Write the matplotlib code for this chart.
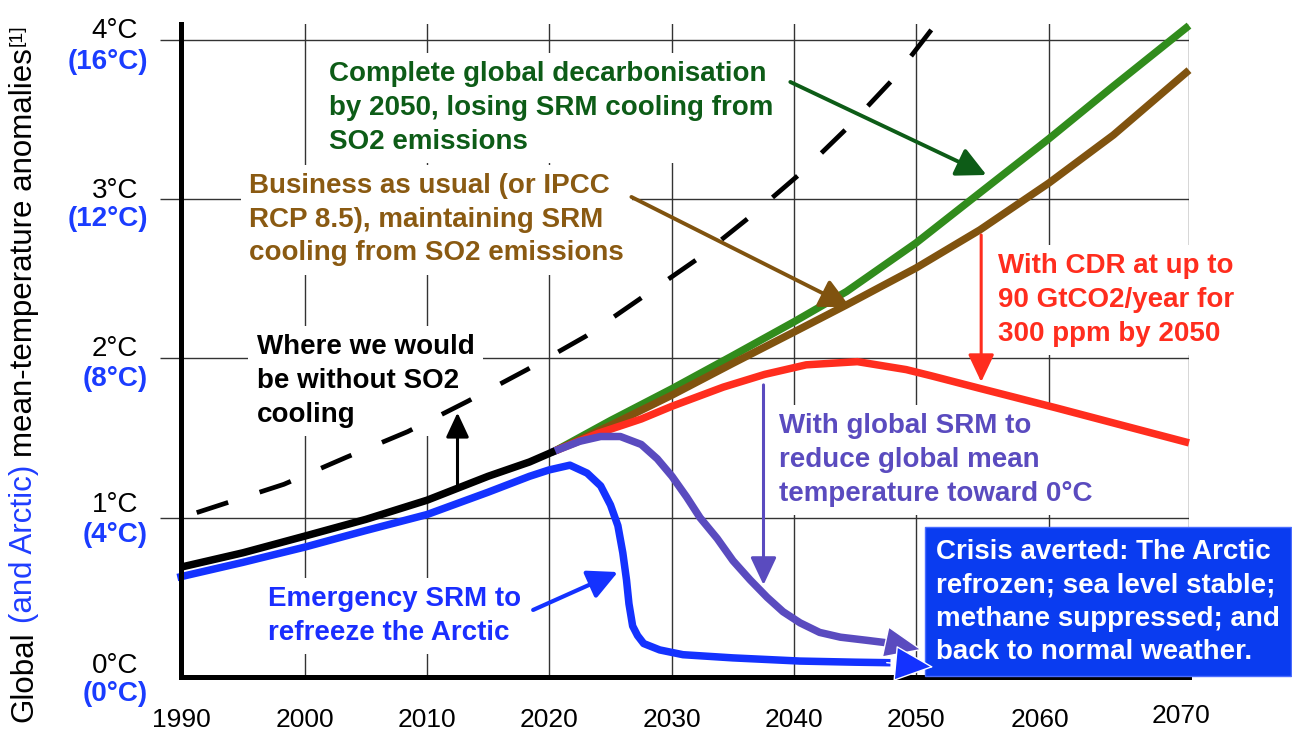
import numpy as np
import matplotlib.pyplot as plt
from matplotlib.transforms import ScaledTranslation

plt.rcParams['font.family'] = ['Liberation Sans', 'DejaVu Sans']

# the x axis of the original is drawn by hand, decades are not evenly spaced
grid_years = [1990, 2000, 2010, 2020, 2030, 2040, 2050, 2060, 2070]
grid_pos = [0, 124, 246, 368, 491, 613, 735, 868, 1008]

temp_ticks = [0, 1, 2, 3, 4]
arctic_ticks = [0, 4, 8, 12, 16]
# the two labels of each tick sit a bit unevenly in the original (pixels)
black_dy = [11, 13, 9, 8, 9]
blue_dy = [-17, -17, -21, -20, -22]

# observed global mean history (black)
hist_years = [1990, 1995, 2000, 2005, 2010, 2015, 2018.4, 2020.5]
hist_temp = [0.69, 0.78, 0.885, 0.99, 1.11, 1.26, 1.35, 1.42]

# without SO2 cooling (dashed)
noso2_years = [1990, 1998.3, 2003.4, 2008.4, 2013.3, 2018.2, 2023.0, 2027.5,
               2032.0, 2036.4, 2040.5, 2044.4, 2048.2, 2051.4]
noso2_temp = [1.00, 1.21, 1.38, 1.54, 1.73, 1.93, 2.14, 2.38,
              2.62, 2.89, 3.16, 3.45, 3.76, 4.09]

# complete decarbonisation (green)
decarb_years = [2020.5, 2025, 2030, 2034.8, 2040, 2044.3, 2050, 2054.8, 2060, 2064.6, 2070]
decarb_temp = [1.42, 1.61, 1.81, 2.01, 2.23, 2.42, 2.725, 3.04, 3.38, 3.71, 4.09]

# business as usual (brown)
bau_years = [2020.5, 2025, 2030, 2035, 2040, 2044.3, 2050, 2054.8, 2060, 2064.6, 2070]
bau_temp = [1.42, 1.58, 1.77, 1.97, 2.166, 2.336, 2.568, 2.807, 3.102, 3.403, 3.81]

# CDR (red)
cdr_years = [2020.5, 2024, 2027.5, 2030, 2034.2, 2037.6, 2041, 2045.2, 2049.2,
             2051.2, 2054.9, 2060.5, 2070]
cdr_temp = [1.42, 1.53, 1.62, 1.70, 1.82, 1.90, 1.96, 1.98, 1.93,
            1.89, 1.81, 1.69, 1.47]

# global SRM (purple)
gsrm_years = [2020.5, 2022.5, 2024.2, 2025.8, 2027.5, 2028.8, 2030, 2031.2, 2032.3,
              2033.7, 2035.0, 2036.4, 2037.8, 2039.1, 2040.5, 2042.1, 2043.8,
              2046.0, 2048.1]
gsrm_temp = [1.42, 1.48, 1.51, 1.51, 1.46, 1.37, 1.26, 1.13, 1.00,
             0.87, 0.73, 0.61, 0.50, 0.41, 0.34, 0.28, 0.25,
             0.23, 0.21]
gsrm_tip = (2050.5, 0.17)

# emergency SRM for the Arctic (blue)
arctic_years = [1990, 1995, 2000, 2005, 2010, 2015, 2018.4, 2020, 2021.7, 2023.1,
                2024.2, 2025, 2025.6, 2026.0, 2026.3, 2026.5, 2026.8, 2027.2,
                2027.7, 2029.0, 2030.9, 2035.0, 2040.5, 2045, 2047.6]
arctic_temp = [0.63, 0.72, 0.816, 0.92, 1.02, 1.16, 1.26, 1.30, 1.33, 1.28,
               1.20, 1.08, 0.95, 0.78, 0.61, 0.46, 0.32, 0.26,
               0.21, 0.17, 0.14, 0.12, 0.10, 0.093, 0.09]
arctic_tip = (2051.3, 0.063)


def fwd(x):
    x = np.asarray(x, dtype=float)
    y = np.interp(x, grid_years, grid_pos)
    y = np.where(x < 1990, (x - 1990) * 12.4, y)
    y = np.where(x > 2070, 1008 + (x - 2070) * 14.0, y)
    return y


def inv(y):
    y = np.asarray(y, dtype=float)
    x = np.interp(y, grid_pos, grid_years)
    x = np.where(y < 0, 1990 + y / 12.4, x)
    x = np.where(y > 1008, 2070 + (y - 1008) / 14.0, x)
    return x


fig = plt.figure(figsize=(12.92, 7.34), dpi=100)
ax = fig.add_axes([181 / 1292, 1 - 677 / 734, 1008 / 1292, 653 / 734])
ax.set_xscale('function', functions=(fwd, inv))
ax.set_xlim(1990, 2070)
ax.set_ylim(0, 4.1)

# grid
for yr in grid_years[1:]:
    ax.axvline(yr, color='#333333', lw=1.0, zorder=0.5)
for t in temp_ticks[1:]:
    ax.axhline(t, color='#333333', lw=1.0, zorder=0.5)

for s in ['top', 'right']:
    ax.spines[s].set_visible(False)
for s in ['left', 'bottom']:
    ax.spines[s].set_linewidth(3.6)
    ax.spines[s].set_zorder(6)

ax.set_yticks(temp_ticks[1:])
ax.tick_params(axis='y', length=15, width=1.0, color='#333333', labelleft=False)
ax.set_xticks(grid_years)
ax.set_xticklabels([str(y) for y in grid_years], fontsize=19)
ax.tick_params(axis='x', length=0, pad=22)
ax.xaxis.set_minor_locator(plt.NullLocator())
labs = ax.get_xticklabels()
labs[7].set_transform(labs[7].get_transform() + ScaledTranslation(-0.09, 0, fig.dpi_scale_trans))
labs[8].set_transform(labs[8].get_transform() + ScaledTranslation(-0.08, 0.04, fig.dpi_scale_trans))

for t, a, dyk, dyb in zip(temp_ticks, arctic_ticks, black_dy, blue_dy):
    ax.annotate(f'{t}°C', xy=(0, t), xycoords=('axes fraction', 'data'),
                xytext=(-43, dyk), textcoords='offset pixels',
                ha='right', va='center', fontsize=20)
    ax.annotate(f'({a}°C)', xy=(0, t), xycoords=('axes fraction', 'data'),
                xytext=(-33, dyb), textcoords='offset pixels',
                ha='right', va='center', fontsize=20, fontweight='bold',
                color='#1a3cff')

# curves
lw = 5.4
ax.plot(noso2_years, noso2_temp, color='black', lw=3.4, ls=(10.5, (7, 7)),
        zorder=3, clip_on=False)
ax.plot(decarb_years, decarb_temp, color='#318c1c', lw=lw, zorder=3,
        clip_on=False, solid_capstyle='butt', solid_joinstyle='round')
ax.plot(bau_years, bau_temp, color='#80530f', lw=lw, zorder=3.1,
        clip_on=False, solid_capstyle='butt', solid_joinstyle='round')
ax.plot(cdr_years, cdr_temp, color='#ff2d1e', lw=lw, zorder=3.2,
        clip_on=False, solid_capstyle='butt', solid_joinstyle='round')
ax.plot(gsrm_years, gsrm_temp, color='#5a4bbf', lw=lw, zorder=3.3,
        clip_on=False, solid_joinstyle='round')
ax.plot(arctic_years, arctic_temp, color='#1432ff', lw=lw, zorder=3.4,
        clip_on=False, solid_joinstyle='round')
ax.plot(hist_years, hist_temp, color='black', lw=lw, zorder=3.5,
        clip_on=False, solid_capstyle='butt', solid_joinstyle='round')

# arrow heads at the end of the SRM curves
ax.annotate('', xy=gsrm_tip, xytext=(gsrm_years[-1], gsrm_temp[-1]),
            arrowprops=dict(arrowstyle='-|>,head_length=1.3,head_width=0.55',
                            mutation_scale=20, fc='#5a4bbf', ec='white', lw=1,
                            shrinkA=0, shrinkB=0), zorder=8)
ax.annotate('', xy=arctic_tip, xytext=(arctic_years[-1], arctic_temp[-1]),
            arrowprops=dict(arrowstyle='-|>,head_length=1.3,head_width=0.6',
                            mutation_scale=20, fc='#1432ff', ec='white', lw=1,
                            shrinkA=0, shrinkB=0), zorder=8)

txt = dict(fontsize=20, fontweight='bold', ha='left', va='center',
           linespacing=1.38, zorder=2,
           bbox=dict(boxstyle='square,pad=0.3', fc='white', ec='none'))

ax.text(2002.0, 3.573, 'Complete global decarbonisation\nby 2050, losing SRM cooling from\nSO2 emissions',
        color='#0d5c17', **txt)
ax.text(1995.5, 2.870, 'Business as usual (or IPCC\nRCP 8.5), maintaining SRM\ncooling from SO2 emissions',
        color='#8a5a12', **txt)
ax.text(1996.1, 1.859, 'Where we would\nbe without SO2\ncooling', color='black', **txt)
ax.text(2056.2, 2.367, 'With CDR at up to\n90 GtCO2/year for\n300 ppm by 2050',
        color='#ff2d1e', **txt)
ax.text(2038.8, 1.363, 'With global SRM to\nreduce global mean\ntemperature toward 0°C',
        color='#5a4bbf', **txt)
ax.text(1997.0, 0.383, 'Emergency SRM to\nrefreeze the Arctic', color='#1a2eff', **txt)

ax.text(2051.5, 0.471, 'Crisis averted: The Arctic\nrefrozen; sea level stable;\nmethane suppressed; and\nback to normal weather.',
        color='white', fontsize=20, fontweight='bold', ha='left', va='center',
        linespacing=1.38, zorder=7, clip_on=False,
        bbox=dict(boxstyle='square,pad=0.4', fc='#0a3cf0', ec='#4a6cff', lw=1))


def arrow(start, tip, color, width, hl=0.9, hw=0.45):
    ax.annotate('', xy=tip, xytext=start,
                arrowprops=dict(arrowstyle=f'-|>,head_length={hl},head_width={hw}',
                                mutation_scale=20, color=color, lw=width,
                                shrinkA=0, shrinkB=0), zorder=4)


arrow((2039.7, 3.736), (2055.3, 3.152), '#0d5c17', 2.8)
arrow((2026.7, 3.014), (2044.6, 2.323), '#80530f', 2.8)
arrow((2012.5, 1.20), (2012.5, 1.66), 'black', 2.2, 0.75, 0.35)
arrow((2054.9, 2.775), (2054.9, 1.852), '#ff2d1e', 2.2, 0.85, 0.4)
arrow((2037.5, 1.834), (2037.5, 0.578), '#5a4bbf', 2.2, 0.85, 0.4)
arrow((2018.7, 0.421), (2025.6, 0.659), '#1432ff', 3.0, 0.9, 0.45)

# y label in pieces so "(and Arctic)" can be blue
fig.canvas.draw()
renderer = fig.canvas.get_renderer()
pieces = [('Global', 'black'), ('(and Arctic)', '#1f3dff'),
          ('mean-temperature anomalies', 'black')]
ypos = 12
for s, c in pieces:
    t = fig.text(24 / 1292, ypos / 734, s, rotation=90, rotation_mode='anchor',
                 ha='left', va='center', color=c, fontsize=22.5)
    bb = t.get_window_extent(renderer)
    ypos = bb.y1 + 8
fig.text(17 / 1292, (ypos - 6) / 734, '[1]', rotation=90, rotation_mode='anchor',
         ha='left', va='center', color='black', fontsize=14)

fig.savefig('out.png', dpi=100)
